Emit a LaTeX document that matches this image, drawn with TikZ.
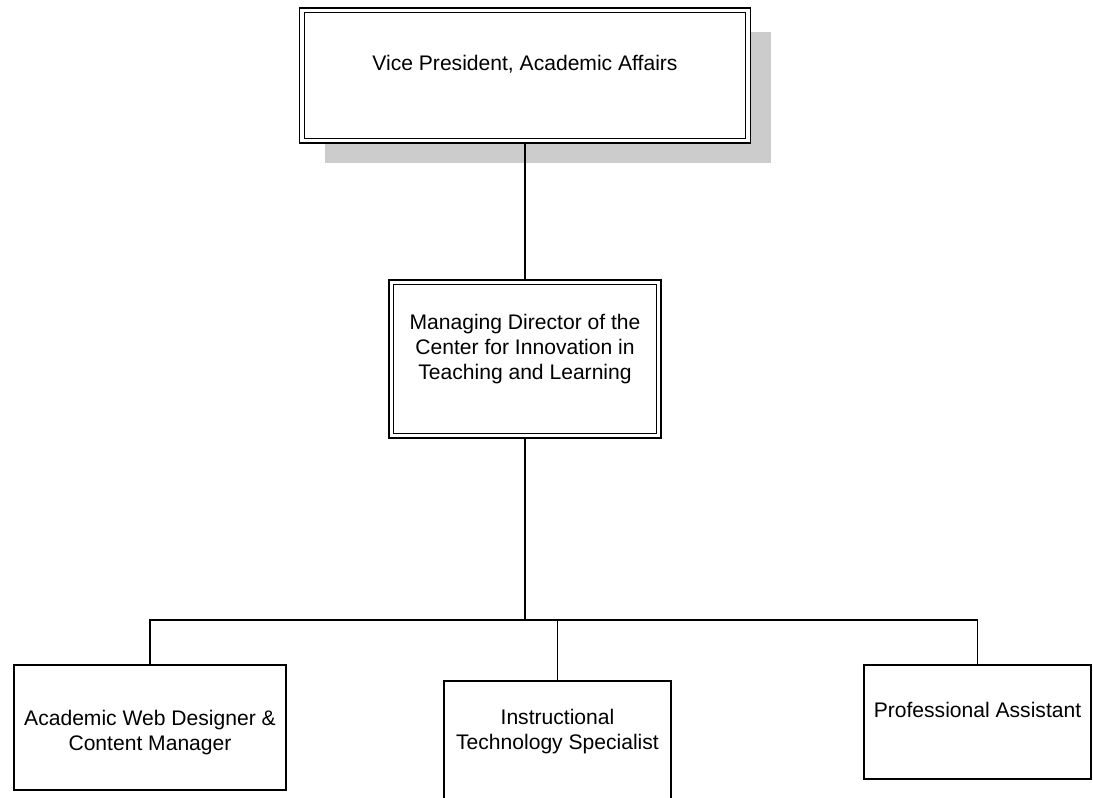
\documentclass[tikz,border=0pt]{standalone}
\usepackage{fontspec}
\setmainfont{Liberation Sans}
\usetikzlibrary{shadows}
\definecolor{shadowgray}{HTML}{CCCCCC}
\tikzset{
  post/.style={draw, line width=1pt, fill=white, align=center, font=\fontsize{12}{14}\selectfont},
  headpost/.style={post, double, double distance=2pt, line width=0.7pt, outer sep=1.7pt},
  link/.style={line width=0.9pt}
}

\begin{document}
\begin{tikzpicture}[x=0.02cm,y=-0.02cm]
\useasboundingbox (0,0) rectangle (1093,798);
\clip (0,0) rectangle (1093,798);
\node[headpost, minimum width=8.93cm, minimum height=2.61cm, text height=0.4cm, text depth=0.62cm,
      drop shadow={shadow xshift=0.46cm, shadow yshift=-0.44cm, fill=shadowgray, opacity=1}]
      (vp) at (525,75.5) {Vice President, Academic Affairs};
\node[headpost, minimum width=5.35cm, minimum height=3.07cm, text height=1.3cm, text depth=0.5cm]
      (md) at (525,359) {Managing Director of the\\Center for Innovation in\\Teaching and Learning};
\node[post, minimum width=5.44cm, minimum height=2.5cm, text height=1.2cm, text depth=0.3cm]
      (awd) at (150,727.5) {Academic Web Designer \&\\Content Manager};
\node[post, minimum width=4.54cm, minimum height=2.5cm, text height=1.0cm, text depth=0.78cm]
      (its) at (557.5,743.5) {Instructional\\Technology Specialist};
\node[post, minimum width=4.54cm, minimum height=2.28cm, text height=0.4cm, text depth=0.6cm]
      (pa) at (977.5,722) {Professional Assistant};
\coordinate (bus) at (525,620);
\draw[link] (vp) -- (md);
\draw[link] (md) -- (bus);
\draw[link] (bus) -| (awd);
\draw[link] (bus) -| (its);
\draw[link] (bus) -| (pa);
\end{tikzpicture}
\end{document}
